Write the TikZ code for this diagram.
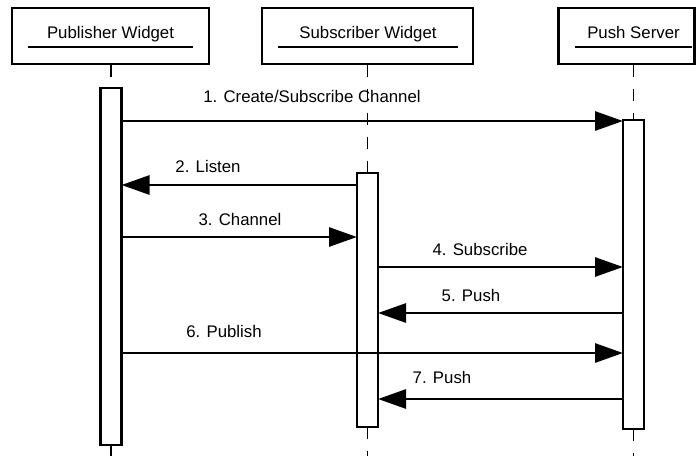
\documentclass[tikz,border=0pt]{standalone}
\usepackage{fontspec}
\setmainfont{Liberation Sans}
\usetikzlibrary{arrows.meta}

\begin{document}
\begin{tikzpicture}[x=1pt,y=-1pt,font=\fontsize{16.8}{20}\selectfont,
	actor/.style={draw, line width=2.8pt, minimum height=56pt, inner sep=0pt},
	bar/.style={draw, line width=2.8pt, minimum width=21pt, inner sep=0pt, outer sep=0pt},
	life/.style={line width=1.5pt, dash pattern=on 12pt off 12pt},
	uline/.style={line width=1.3pt},
	msg/.style={line width=2.8pt, -{Triangle[length=28pt,width=19pt]}},
	lbl/.style={anchor=base, inner sep=0pt}]
	\useasboundingbox (0,0) rectangle (696,456);
	\node[actor, minimum width=197pt] (pub) at (110.5,36) {};
	\node[actor, minimum width=211pt] (sub) at (367.5,36) {};
	\node[actor, minimum width=136pt] (push) at (626.2,36) {};
	\node[lbl] (pubname) at (110.5,38) {Publisher Widget};
	\node[lbl] (subname) at (368,38) {Subscriber Widget};
	\node[lbl] (pushname) at (633.5,38) {Push Server};
	\draw[uline] (28,47) -- (193,47);
	\draw[uline] (278,47) -- (458,47);
	\draw[uline] (575,47) -- (692,47);
	\node[bar, minimum height=357pt] (pubbar) at (111,266.5) {};
	\node[bar, minimum height=254pt] (subbar) at (367.5,300) {};
	\node[bar, minimum height=309pt] (pushbar) at (633.5,274.5) {};
	\coordinate (bottom) at (0,456);
	\draw[life] (pubbar.north |- pub.south) -- (pubbar.north);
	\draw[life] (subbar.north |- sub.south) -- (subbar.north);
	\draw[life] (pushbar.north |- push.south) -- (pushbar.north);
	\draw[life] (pubbar.south) -- (pubbar.south |- bottom);
	\draw[life] (subbar.south) -- (subbar.south |- bottom);
	\draw[life] (pushbar.south) -- (pushbar.south |- bottom);
	\coordinate (m1) at (0,121);
	\coordinate (m2) at (0,185);
	\coordinate (m3) at (0,237);
	\coordinate (m4) at (0,267);
	\coordinate (m5) at (0,313);
	\coordinate (m6) at (0,353);
	\coordinate (m7) at (0,399);
	\draw[msg] (pubbar.east |- m1) -- (pushbar.west |- m1);
	\draw[msg] (subbar.west |- m2) -- (pubbar.east |- m2);
	\draw[msg] (pubbar.east |- m3) -- (subbar.west |- m3);
	\draw[msg] (subbar.east |- m4) -- (pushbar.west |- m4);
	\draw[msg] (pushbar.west |- m5) -- (subbar.east |- m5);
	\draw[msg] (pubbar.east |- m6) -- (pushbar.west |- m6);
	\draw[msg] (pushbar.west |- m7) -- (subbar.east |- m7);
	\node[lbl] (l1) at (312,102) {1. Create/Subscribe Channel};
	\node[lbl] (l2) at (208,172) {2. Listen};
	\node[lbl] (l3) at (240,225) {3. Channel};
	\node[lbl] (l4) at (480,255) {4. Subscribe};
	\node[lbl] (l5) at (471,301) {5. Push};
	\node[lbl] (l6) at (224,337) {6. Publish};
	\node[lbl] (l7) at (442,383) {7. Push};
\end{tikzpicture}
\end{document}
